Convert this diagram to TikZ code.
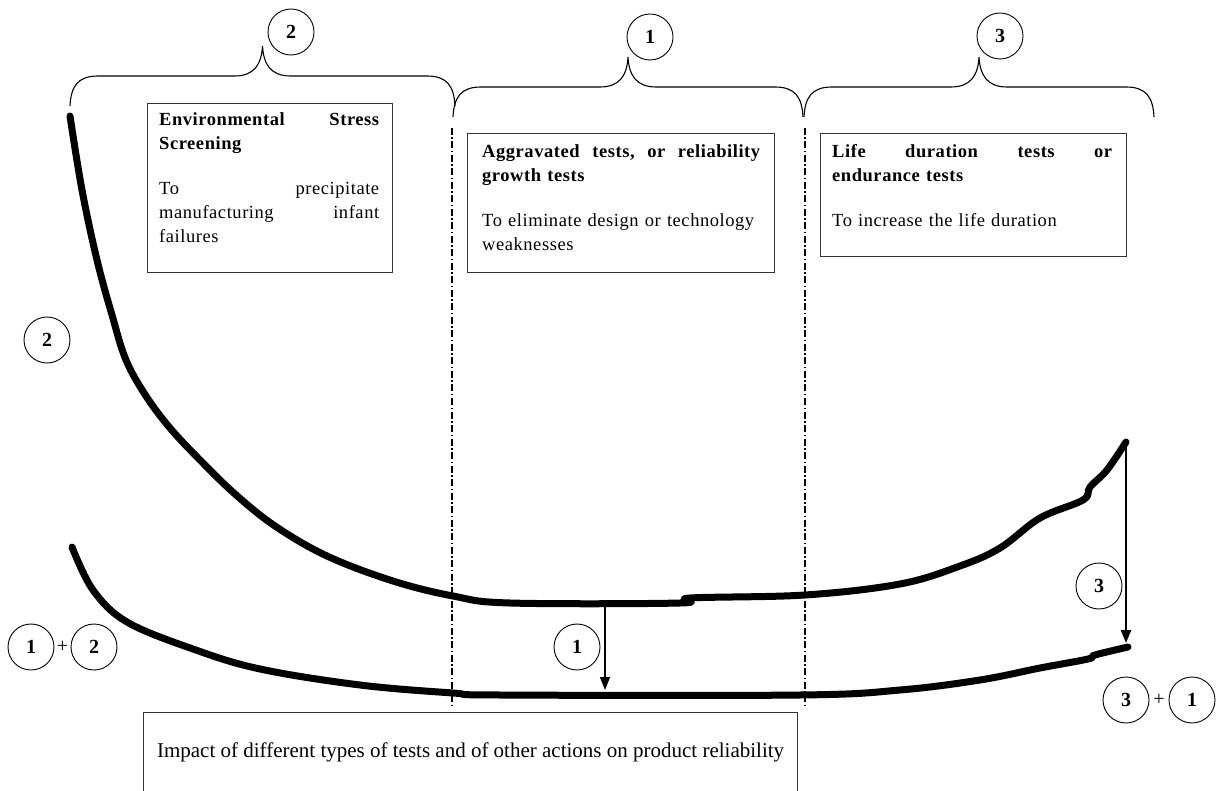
\documentclass[tikz,border=0pt]{standalone}
\usepackage{fontspec}
\setmainfont{Liberation Serif}
\newfontfamily\panelfont[LetterSpace=3]{Liberation Serif}
\usetikzlibrary{arrows.meta, calc}

\begin{document}
\begin{tikzpicture}[x=1pt, y=-1pt,
    num/.style={circle, draw, line width=0.9pt, minimum size=46pt, inner sep=0pt, font=\fontsize{20}{20}\selectfont\bfseries},
    pluslbl/.style={inner sep=0pt, font=\fontsize{20}{20}\selectfont},
    panel/.style={rectangle, draw=black!80, line width=1.2pt, anchor=north west, inner sep=0pt},
    paneltext/.style={anchor=north west, inner sep=0pt, align=left, font=\panelfont\fontsize{18.5}{24}\selectfont},
    divider/.style={line width=1.3pt, dash pattern=on 7pt off 2.5pt on 1.5pt off 2.5pt},
    bathtub/.style={line width=7pt, line cap=round, line join=round},
    curly/.style={line width=1.1pt},
    drop/.style={-{Triangle[length=13pt, width=10pt]}}
]
    \useasboundingbox (0,0) rectangle (1218,791);
    \foreach \xl/\xr/\yb in {70/455/76, 453/803/87, 804/1154/87} {
        \pgfmathsetmacro{\xm}{(\xl+\xr)/2}
        \draw[curly] (\xl,\yb+30) .. controls (\xl+1,\yb+10) and (\xl+8,\yb) .. (\xl+28,\yb)
            -- (\xm-28,\yb) .. controls (\xm-8,\yb) and (\xm-1,\yb-12) .. (\xm,\yb-30)
            .. controls (\xm+1,\yb-12) and (\xm+8,\yb) .. (\xm+28,\yb)
            -- (\xr-28,\yb) .. controls (\xr-8,\yb) and (\xr-1,\yb+10) .. (\xr,\yb+30);
    }
    \foreach \nm/\px/\py/\lbl in {esstop/291/32/2, agtop/650/37/1, lifetop/1000/36/3, esside/47/340/2,
        sumone/31/647/1, sumtwo/94/647/2, agstep/577/647/1, lifestep/1099/586/3, endthree/1126/700/3, endone/1192/700/1} {
        \node[num] (\nm) at (\px,\py) {\lbl};
    }
    \node[pluslbl] (sumplus) at ($(sumone)!0.5!(sumtwo)$) {+};
    \node[pluslbl] (endplus) at ($(endthree)!0.5!(endone)$) {+};
    \foreach \dx/\nm in {452/divl, 805/divr} {
        \coordinate (\nm top) at (\dx,128);
        \coordinate (\nm bot) at (\dx,708);
        \draw[divider] (\nm top) -- (\nm bot);
    }
    \node[panel, minimum width=245, minimum height=169] (esspanel) at (147,103) {};
    \node[paneltext, text width=220] (esstext) at ([xshift=12pt, yshift=-9pt]esspanel.north west)
        {{\bfseries Environmental\hfill Stress\\ Screening}\\[21pt]
        To\hfill precipitate\\ manufacturing\hfill infant\\ failures};
    \node[panel, minimum width=307, minimum height=139] (agpanel) at (467,133) {};
    \node[paneltext, text width=278] (agtext) at ([xshift=15pt, yshift=-11pt]agpanel.north west)
        {{\bfseries Aggravated\hfill tests,\hfill or\hfill reliability\\ growth tests}\\[21pt]
        To eliminate design or technology\\ weaknesses};
    \node[panel, minimum width=306, minimum height=123] (lifepanel) at (820,133) {};
    \node[paneltext, text width=280] (lifetext) at ([xshift=12pt, yshift=-11pt]lifepanel.north west)
        {{\bfseries Life\hfill duration\hfill tests\hfill or\\ endurance tests}\\[21pt]
        To increase the life duration};
    \draw[bathtub] plot[smooth, tension=0.6] coordinates {(70,116) (82,190) (97,260) (112,315) (126,360)
        (146,396) (170,428) (200,460) (235,494) (275,526) (327,556) (393,581) (453,596)
        (510,603) (680,603) (690,598) (805,595) (900,584) (960,566) (1000,548) (1040,518) (1083,500)
        (1090,487) (1107,470) (1126,442)};
    \draw[bathtub] plot[smooth, tension=0.6] coordinates {(72,547) (93,590) (127,622) (193,649) (260,669)
        (360,685) (453,693) (500,695) (800,695) (900,690) (980,680) (1040,668) (1088,659) (1095,655) (1128,647)};
    \coordinate (floortop) at (605,606);
    \coordinate (floorbot) at (605,690);
    \draw[drop, line width=1.2pt] (floortop) -- (floorbot);
    \coordinate (wearpeak) at (1126,442);
    \coordinate (wearlow) at (1126,643);
    \draw[drop, line width=2.4pt] (wearpeak) -- (wearlow);
    \node[panel, minimum width=654, minimum height=80, font=\fontsize{21}{25}\selectfont] (caption) at (143,712)
        {Impact of different types of tests and of other actions on product reliability};
\end{tikzpicture}
\end{document}
